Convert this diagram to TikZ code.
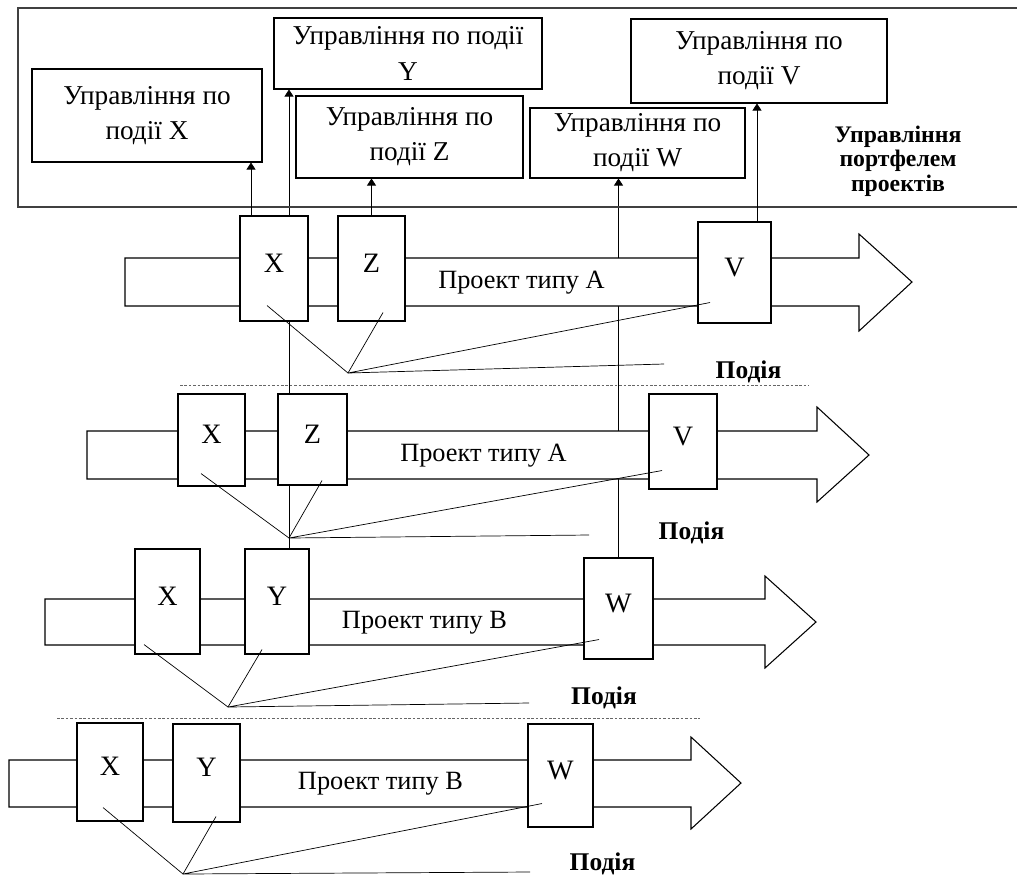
\documentclass[tikz,border=0pt]{standalone}
\usepackage{fontspec}
\setmainfont{Liberation Serif}
\usepackage{tikz}
\usetikzlibrary{arrows.meta}
\usetikzlibrary{calc}
\pgfdeclarelayer{bg}
\pgfsetlayers{bg,main}

\begin{document}
\begin{tikzpicture}[x = 0.02cm, y = -0.02cm, line width = 0.6pt,
  wh/.style 2 args = {minimum width = #1*0.02cm, minimum height = #2*0.02cm},
  ctrl/.style = {draw, fill = white, align = center, inner sep = 0, font = \fontsize{15.5}{20}\selectfont},
  evbox/.style = {draw, fill = white, inner sep = 0, text depth = 0.22cm, font = \fontsize{16}{18}\selectfont},
  proj/.style = {inner sep = 0, font = \fontsize{15}{17}\selectfont},
  podiya/.style = {inner sep = 0, font = \bfseries\fontsize{14.5}{16}\selectfont},
  up/.style = {-{Triangle[length = 1.4mm, width = 1.8mm]}},
  sep/.style = {black!60, line width = 0.5pt, dash pattern = on 1.5pt off 1pt}]
 \useasboundingbox (0, 0) rectangle (1017, 877);

 \draw [black!75, line width = 0.9pt] (1030, 8) -- (18, 8) -- (18, 207) -- (1030, 207);
 \node [ctrl, wh = {230}{93}] (cx) at (147, 115.5) {Управління по\\події X};
 \node [ctrl, wh = {268}{71}] (cy) at (408, 53.5) {Управління по події\\Y};
 \node [ctrl, wh = {227}{82}] (cz) at (409.5, 137) {Управління по\\події Z};
 \node [ctrl, wh = {215}{70}] (cw) at (637.5, 143) {Управління по\\події W};
 \node [ctrl, wh = {256}{84}] (cv) at (759, 61) {Управління по\\події V};
 \node [align = center, font = \bfseries\fontsize{13.5}{14}\selectfont] (port) at (898, 161) {Управління\\портфелем\\проектів};

 \draw [fill = white] (125, 258) -- (859, 258) -- (859, 234) -- (912, 282) -- (859, 331) -- (859, 306) -- (125, 306) -- cycle;
 \draw [fill = white] (87, 431) -- (817, 431) -- (817, 407) -- (869, 455) -- (817, 502) -- (817, 479) -- (87, 479) -- cycle;
 \draw [fill = white] (45, 599) -- (765, 599) -- (765, 576) -- (816, 622) -- (765, 668) -- (765, 645) -- (45, 645) -- cycle;
 \draw [fill = white] (9, 760) -- (691, 760) -- (691, 737) -- (741, 783) -- (691, 829) -- (691, 807) -- (9, 807) -- cycle;

 \node [evbox, wh = {68}{105}] (x1) at (274, 268.5) {X};
 \node [evbox, wh = {67}{105}] (z1) at (371.5, 268.5) {Z};
 \node [evbox, wh = {73}{101}] (v1) at (734.5, 272.5) {V};
 \node [proj] (pa1) at (521.5, 283) {Проект типу А};

 \node [evbox, wh = {67}{92}] (x2) at (211.5, 440) {X};
 \node [evbox, wh = {69}{91}] (z2) at (312.5, 439.5) {Z};
 \node [evbox, wh = {68}{95}] (v2) at (683, 441.5) {V};
 \node [proj] (pa2) at (483.5, 456) {Проект типу А};

 \node [evbox, wh = {65}{105}] (x3) at (167.5, 601.5) {X};
 \node [evbox, wh = {64}{105}] (y3) at (277, 601.5) {Y};
 \node [evbox, wh = {69}{101}] (w3) at (618.5, 608.5) {W};
 \node [proj] (pb3) at (424.5, 623) {Проект типу В};

 \node [evbox, wh = {66}{98}] (x4) at (110, 772) {X};
 \node [evbox, wh = {67}{98}] (y4) at (206.5, 773) {Y};
 \node [evbox, wh = {65}{103}] (w4) at (560.5, 775.5) {W};
 \node [proj] (pb4) at (380.5, 784) {Проект типу В};

 \coordinate (e1) at (348, 373);
 \coordinate (e2) at (289, 538);
 \coordinate (e3) at (228, 707);
 \coordinate (e4) at (183, 874);
 \coordinate (h1) at (664, 364);
 \coordinate (h2) at (589, 535);
 \coordinate (h3) at (529, 703);
 \coordinate (h4) at (530, 872);

 \begin{pgfonlayer}{bg}
  \draw [up] (e2 |- y3.north) -- (e2 |- cy.south);
  \draw [up] (w3.north) -- (w3.north |- cw.south);
 \end{pgfonlayer}
 \draw [up] ([xshift = -0.46cm] x1.north) -- ([xshift = -0.46cm] x1.north |- cx.south);
 \draw [up] (z1.north) -- (z1.north |- cz.south);
 \draw [up] ([xshift = 0.45cm] v1.north) -- ([xshift = 0.45cm] v1.north |- cv.south);

 \draw ([shift = {(-7, -16)}] x1.south) -- (e1) -- ([shift = {(11.5, -9)}] z1.south);
 \draw ([shift = {(-24.5, -21)}] v1.south) -- (e1) -- (h1);
 \draw ([shift = {(-10.5, -13)}] x2.south) -- (e2) -- ([shift = {(9.5, -5)}] z2.south);
 \draw ([shift = {(-21, -19)}] v2.south) -- (e2) -- (h2);
 \draw ([shift = {(-23.5, -10)}] x3.south) -- (e3) -- ([shift = {(-15, -5)}] y3.south);
 \draw ([shift = {(-19.5, -20)}] w3.south) -- (e3) -- (h3);
 \draw ([shift = {(-7, -14)}] x4.south) -- (e4) -- ([shift = {(9.5, -6)}] y4.south);
 \draw ([shift = {(-18.5, -24)}] w4.south) -- (e4) -- (h4);

 \node [podiya] (p1) at (748.5, 372) {Подія};
 \node [podiya] (p2) at (691.5, 533) {Подія};
 \node [podiya] (p3) at (604, 698) {Подія};
 \node [podiya] (p4) at (602.5, 864) {Подія};

 \draw [sep] (180, 385) -- (809, 385);
 \draw [sep] (57, 718) -- (700, 718);
\end{tikzpicture}
\end{document}
